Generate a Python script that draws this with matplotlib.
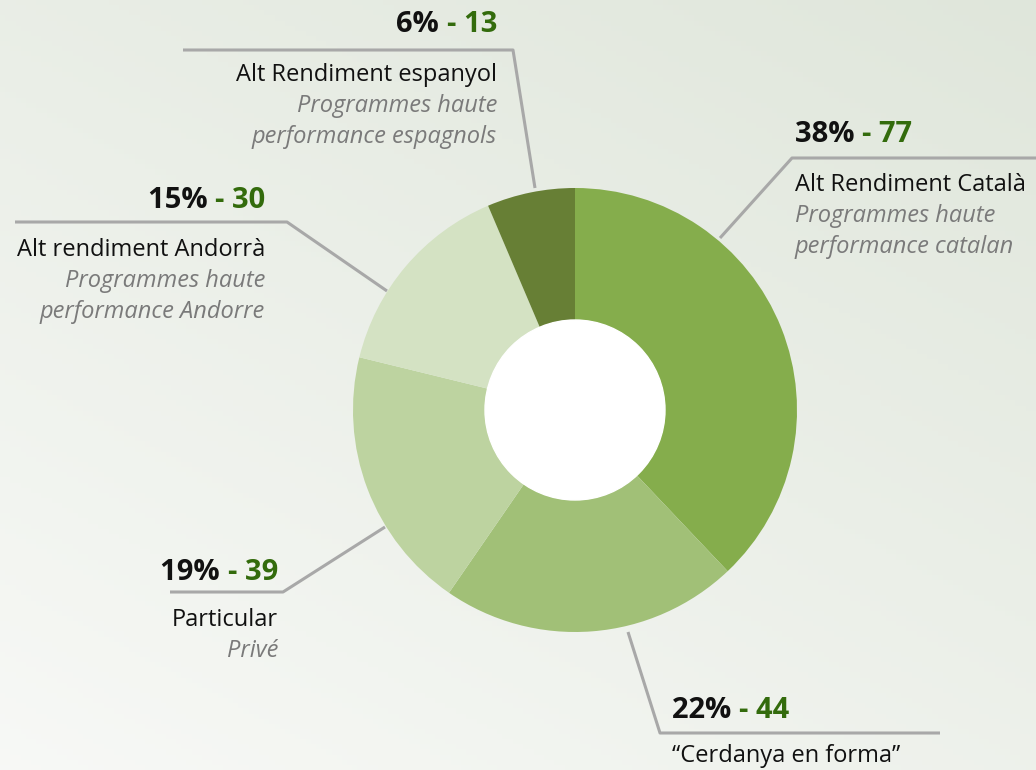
import numpy as np
import matplotlib
matplotlib.use('Agg')
from matplotlib import pyplot as plt
from matplotlib.patches import Circle

# Données (ordre horaire à partir de midi)
names = ['Alt Rendiment Català', '\u201cCerdanya en forma\u201d', 'Particular',
         'Alt rendiment Andorrà', 'Alt Rendiment espanyol']
subnames = ['Programmes haute\nperformance catalan', '', 'Privé',
            'Programmes haute\nperformance Andorre',
            'Programmes haute\nperformance espagnols']
counts = [77, 44, 39, 30, 13]
colors = ['#85ad4c', '#a1c077', '#bdd3a0', '#d4e2c3', '#677f35']

W, H = 1036, 770
FONT = 'Open Sans'

fig = plt.figure(figsize=(W / 100, H / 100), dpi=100)
ax = fig.add_axes([0, 0, 1, 1])

# fond clair légèrement verdâtre (dégradé simple)
gx = np.linspace(0, 1, 200)
gy = np.linspace(0, 1, 150)
X, Y = np.meshgrid(gx, gy)
shade = 0.5 * (1 - Y) + 0.35 * X
base = np.array([0.97, 0.975, 0.965])
green = np.array([0.86, 0.89, 0.84])
bg = base[None, None, :] * (1 - shade[..., None]) + green[None, None, :] * shade[..., None]
ax.imshow(bg, extent=(0, W, 0, H), origin='upper', zorder=0, aspect='auto')

def py(y):
    return H - y

cx, cy = 575, 410
ax.pie(counts, colors=colors, startangle=90, counterclock=False,
       radius=222, center=(cx, py(cy)),
       wedgeprops=dict(width=132, linewidth=0))
ax.add_patch(Circle((cx, py(cy)), 90, color='white', zorder=3))

ax.set_xlim(0, W)
ax.set_ylim(0, H)
ax.set_axis_off()

total = sum(counts)
pcts = [round(c * 100 / total) for c in counts]

# lignes de rappel (coordonnées pixel)
leaders = [
    [(1036, 158), (792, 158), (720, 238)],
    [(940, 733), (660, 733), (628, 632)],
    [(170, 592), (283, 592), (385, 527)],
    [(15, 222), (287, 222), (387, 291)],
    [(183, 50), (513, 50), (535, 188)],
]
for pts in leaders:
    xs = [p[0] for p in pts]
    ys = [py(p[1]) for p in pts]
    ax.plot(xs, ys, color='#a8a8a8', lw=2.2, solid_capstyle='butt', zorder=1)

# positions des étiquettes: x, alignement, y du chiffre, y du nom
label_pos = [
    (795, 'left', 135, 185),
    (672, 'left', 710, 756),
    (278, 'right', 572, 620),
    (265, 'right', 200, 250),
    (497, 'right', 24, 75),
]

fig.canvas.draw()
renderer = fig.canvas.get_renderer()
inv = ax.transData.inverted()
line_h = 31

for i, (x, ha, ynum, yname) in enumerate(label_pos):
    big = 21
    p_txt = f'{pcts[i]}% '
    c_txt = f'- {counts[i]}'
    if ha == 'left':
        t1 = ax.text(x, py(ynum), p_txt, ha='left', va='center', fontsize=big,
                     fontweight='bold', color='#111111', family=FONT)
        bb = t1.get_window_extent(renderer)
        x2 = inv.transform((bb.x1, 0))[0]
        ax.text(x2, py(ynum), c_txt, ha='left', va='center', fontsize=big,
                fontweight='bold', color='#336b0c', family=FONT)
    else:
        t2 = ax.text(x, py(ynum), c_txt, ha='right', va='center', fontsize=big,
                     fontweight='bold', color='#336b0c', family=FONT)
        bb = t2.get_window_extent(renderer)
        x1 = inv.transform((bb.x0, 0))[0]
        ax.text(x1, py(ynum), p_txt, ha='right', va='center', fontsize=big,
                fontweight='bold', color='#111111', family=FONT)

    ax.text(x, py(yname), names[i], ha=ha, va='center', fontsize=17,
            color='#111111', family=FONT)
    for j, sub in enumerate(subnames[i].split('\n') if subnames[i] else []):
        ax.text(x, py(yname + line_h * (j + 1)), sub, ha=ha, va='center',
                fontsize=17, style='italic', color='#7a7a7a', family=FONT)

fig.savefig('out.png', dpi=100)
